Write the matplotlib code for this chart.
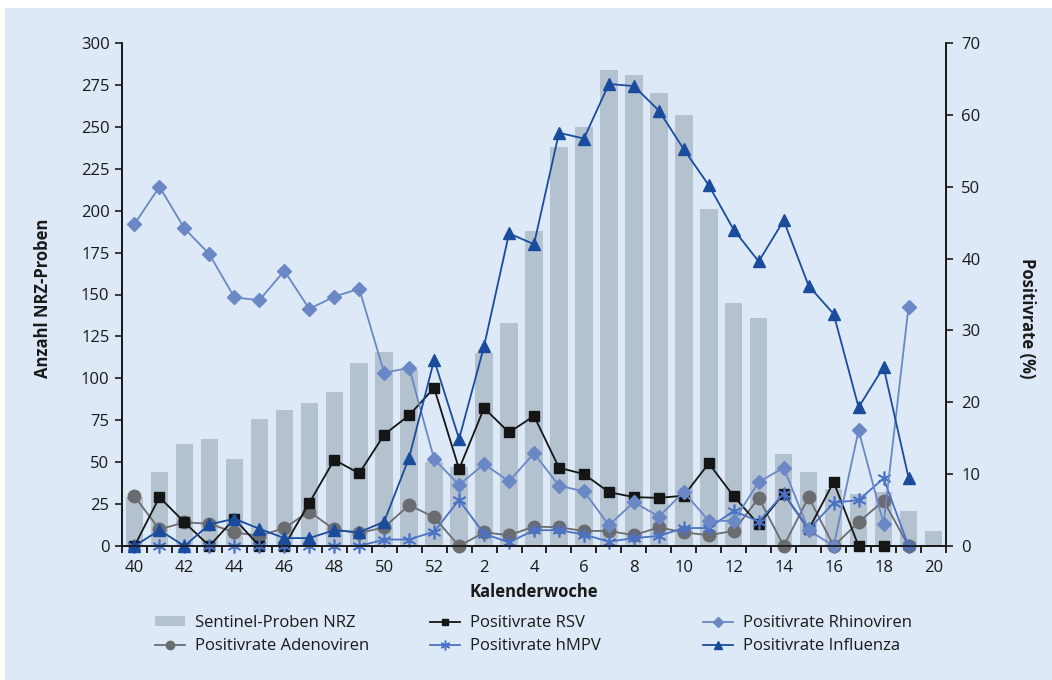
import numpy as np
import matplotlib
matplotlib.use("Agg")
import matplotlib.pyplot as plt
from matplotlib.patches import Rectangle
from matplotlib.lines import Line2D

plt.rcParams['font.family'] = ['Open Sans', 'DejaVu Sans']

# Kalenderwochen 40/2017 bis 20/2018
weeks = [40, 41, 42, 43, 44, 45, 46, 47, 48, 49, 50, 51, 52,
         1, 2, 3, 4, 5, 6, 7, 8, 9, 10, 11, 12, 13, 14, 15, 16, 17, 18, 19, 20]
tick_labels = ["40", "42", "44", "46", "48", "50", "52",
               "2", "4", "6", "8", "10", "12", "14", "16", "18", "20"]

# Anzahl Sentinel-Proben NRZ
samples = [29, 44, 61, 64, 52, 76, 81, 85, 92, 109, 116, 105, 50,
           47, 115, 133, 188, 238, 250, 284, 281, 270, 257, 201, 145, 136,
           55, 44, 34, 31, 32, 21, 9]

nan = np.nan
# Positivraten (%)
rsv = [0, 6.8, 3.3, 0, 3.8, 0, 0, 6.0, 12.0, 10.1, 15.5, 18.2, 22.0,
       10.7, 19.2, 15.8, 18.1, 10.9, 10.0, 7.5, 6.8, 6.7, 7.0, 11.5, 6.9, 3.0,
       7.3, 2.3, 8.9, 0, 0, nan, nan]
adeno = [6.9, 2.3, 3.3, 3.1, 1.9, 1.4, 2.5, 4.8, 2.3, 1.8, 2.6, 5.7, 4.0,
         0, 1.9, 1.5, 2.7, 2.6, 2.1, 2.1, 1.5, 2.6, 1.9, 1.5, 2.1, 6.7,
         0, 6.8, 0, 3.3, 6.3, 0, nan]
hmpv = [0, 0, 0, 0, 0, 0, 0, 0, 0, 0, 0.9, 0.9, 2.0,
        6.4, 1.7, 0.5, 2.2, 2.2, 1.6, 0.6, 1.1, 1.4, 2.5, 2.5, 4.9, 3.4,
        7.3, 2.3, 6.0, 6.4, 9.4, 0, nan]
rhino = [44.8, 50.0, 44.2, 40.6, 34.6, 34.2, 38.3, 33.0, 34.7, 35.8, 24.1, 24.8, 12.1,
         8.5, 11.4, 9.0, 12.9, 8.4, 7.6, 2.9, 6.1, 4.1, 7.5, 3.5, 3.5, 8.9,
         10.9, 2.2, 0, 16.1, 3.1, 33.3, nan]
influenza = [0, 2.2, 0, 3.0, 3.8, 2.4, 1.1, 1.1, 2.2, 1.9, 3.4, 12.3, 25.9,
             14.9, 27.8, 43.5, 42.0, 57.5, 56.7, 64.3, 64.0, 60.6, 55.2, 50.2, 44.0, 39.6,
             45.3, 36.2, 32.3, 19.3, 24.9, 9.5, nan]

bg = "#dde9f6"
c_bar = "#b4c2d0"
c_rsv = "#151515"
c_adeno = "#6a6c70"
c_hmpv = "#4a72c6"
c_rhino = "#6a87c6"
c_flu = "#1a4c9e"
c_text = "#1a1a1a"
fs = 12
asterisk = (6, 2, 0)

fig = plt.figure(figsize=(10.52, 6.80), dpi=100)
fig.patch.set_facecolor("white")
fig.patches.append(Rectangle((5 / 1052, 0), 1 - 5 / 1052, 1 - 8 / 680,
                             transform=fig.transFigure, facecolor=bg,
                             edgecolor="none", zorder=-10))

ax = fig.add_axes([122 / 1052, 134 / 680, 824 / 1052, 503 / 680])
ax.set_facecolor("none")
x = np.arange(len(weeks))
ax.bar(x, samples, width=0.7, color=c_bar, zorder=1)
ax.set_xlim(-0.5, len(weeks) - 0.5)
ax.set_ylim(0, 300)
ax.set_yticks(np.arange(0, 301, 25))

ax2 = ax.twinx()
ax2.set_ylim(0, 70)
ax2.set_yticks(np.arange(0, 71, 10))

line_kw = dict(lw=1.3, clip_on=False)
ax2.plot(x, adeno, color=c_adeno, marker="o", ms=9, **line_kw)
ax2.plot(x, rsv, color=c_rsv, marker="s", ms=7, **line_kw)
ax2.plot(x, hmpv, color=c_hmpv, marker=asterisk, ms=10, mew=1.2, **line_kw)
ax2.plot(x, rhino, color=c_rhino, marker="D", ms=7, **line_kw)
ax2.plot(x, influenza, color=c_flu, marker="^", ms=9, **line_kw)

# x axis: labels at every second week, ticks between weeks
label_pos = x[::2]
ax.set_xticks(label_pos)
ax.set_xticklabels(tick_labels)
ax.tick_params(axis="x", which="major", length=0, pad=10)
ax.set_xticks(np.arange(-0.5, len(weeks) + 0.5, 1), minor=True)
ax.tick_params(axis="x", which="minor", length=5, width=1.2, direction="out")

for a in (ax, ax2):
    a.spines["top"].set_visible(False)
    for s in ("left", "right", "bottom"):
        a.spines[s].set_linewidth(1.3)
        a.spines[s].set_color(c_text)
    a.tick_params(axis="y", length=5, width=1.2, direction="out", labelsize=fs,
                  colors=c_text)
ax.tick_params(axis="x", labelsize=fs, colors=c_text)
ax.tick_params(axis="y", pad=4)
ax2.tick_params(axis="y", pad=6)

fig.text(43 / 1052, 1 - 298 / 680, "Anzahl NRZ-Proben", rotation=90,
         ha="center", va="center", fontsize=fs, fontweight="bold", color=c_text)
fig.text(1027 / 1052, 1 - 318 / 680, "Positivrate (%)", rotation=270,
         ha="center", va="center", fontsize=fs, fontweight="bold", color=c_text)
fig.text(534 / 1052, 1 - 592 / 680, "Kalenderwoche", ha="center", va="center",
         fontsize=fs, fontweight="bold", color=c_text)

h_bar = Rectangle((0, 0), 1, 1, facecolor=c_bar, edgecolor="none")
h_adeno = Line2D([], [], color=c_adeno, marker="o", ms=6, lw=1.3)
h_rsv = Line2D([], [], color=c_rsv, marker="s", ms=5, lw=1.3)
h_hmpv = Line2D([], [], color=c_hmpv, marker=asterisk, ms=7, mew=1.1, lw=1.3)
h_rhino = Line2D([], [], color=c_rhino, marker="D", ms=5, lw=1.3)
h_flu = Line2D([], [], color=c_flu, marker="^", ms=6, lw=1.3)

columns = [
    (155, [h_bar, h_adeno], ["Sentinel-Proben NRZ", "Positivrate Adenoviren"]),
    (430, [h_rsv, h_hmpv], ["Positivrate RSV", "Positivrate hMPV"]),
    (703, [h_rhino, h_flu], ["Positivrate Rhinoviren", "Positivrate Influenza"]),
]
for x0, hs, ls in columns:
    leg = fig.legend(hs, ls, loc="upper left",
                     bbox_to_anchor=(x0 / 1052, 1 - 615 / 680), frameon=False,
                     fontsize=fs, handlelength=1.8, handleheight=0.5,
                     handletextpad=0.6, labelspacing=0.45,
                     borderaxespad=0, borderpad=0)
    for t in leg.get_texts():
        t.set_color(c_text)

fig.savefig("out.png", dpi=100, facecolor=fig.get_facecolor())
